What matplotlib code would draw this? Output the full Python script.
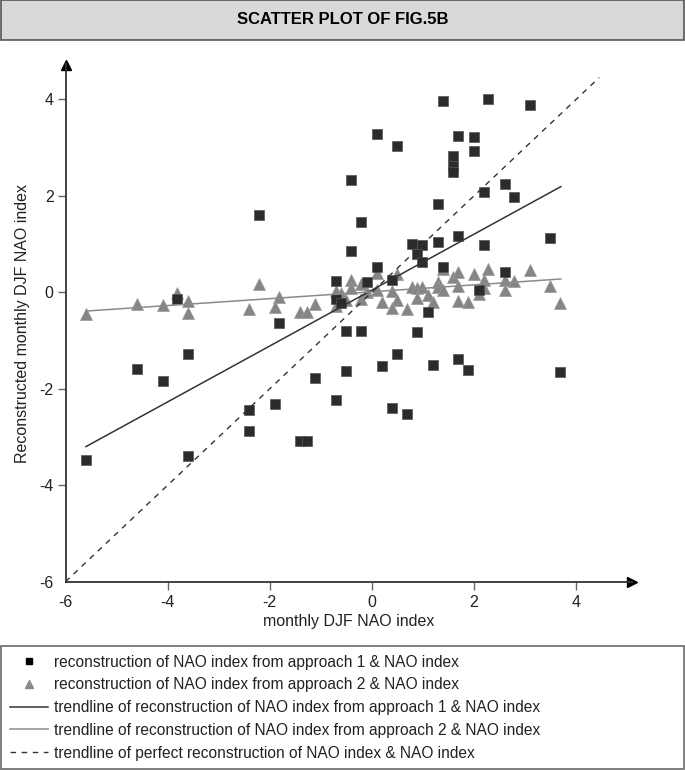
import numpy as np
import matplotlib
matplotlib.use('Agg')
import matplotlib.pyplot as plt
from matplotlib.patches import Rectangle
from matplotlib.lines import Line2D

plt.rcParams['font.family'] = ['Liberation Sans', 'DejaVu Sans']

# approach 1 reconstruction vs observed NAO index (squares)
sq_x = [1.39, 2.28, 3.09, 0.09, 0.5, 1.69, 1.99, 1.99, 1.59, 1.59, 1.59, -0.41, 2.6, 2.19,
        2.79, 1.29, -0.21, 3.48, 1.69, 0.79, 0.99, 1.29, 2.19, -0.41, 0.89, 0.99, 0.09, 1.39,
        2.6, -0.7, -0.1, 0.39, 2.09, -0.7, -0.61, 1.09, -0.51, -0.21, 0.89, 0.5, 0.2, 1.19,
        1.69, 1.89, 3.69, -0.51, -1.11, -0.7, 0.39, 0.69, -1.41, -1.28, -3.81, -1.81, -3.61,
        -4.6, -4.1, -2.41, -1.9, -2.41, -5.6, -3.61, -2.21]
sq_y = [3.96, 4.0, 3.88, 3.28, 3.04, 3.24, 3.22, 2.93, 2.82, 2.62, 2.49, 2.33, 2.24, 2.07,
        1.97, 1.83, 1.46, 1.12, 1.17, 1.01, 0.99, 1.04, 0.99, 0.86, 0.79, 0.62, 0.53, 0.53,
        0.41, 0.24, 0.22, 0.25, 0.04, -0.15, -0.23, -0.4, -0.81, -0.81, -0.83, -1.28, -1.52, -1.51,
        -1.38, -1.61, -1.65, -1.63, -1.78, -2.24, -2.39, -2.53, -3.08, -3.08, -0.14, -0.64, -1.28,
        -1.59, -1.83, -2.45, -2.31, -2.88, -3.47, -3.4, 1.6]

# approach 2 reconstruction vs observed NAO index (triangles)
tri_x = [-5.6, -4.6, -4.1, -3.81, -3.61, -3.61, -2.21, -2.41, -1.81, -1.9, -1.41, -1.28,
         -1.11, -0.7, -0.61, -0.51, -0.7, -0.41, -0.41, -0.21, -0.21, -0.1, 0.09, 0.09, 0.2,
         0.39, 0.5, 0.5, 0.39, 0.69, 0.79, 0.89, 0.99, 0.89, 1.09, 1.19, 1.29, 1.29, 1.39,
         1.39, 1.59, 1.69, 1.69, 1.69, 1.89, 1.99, 2.09, 2.19, 2.19, 2.28, 2.6, 2.6, 2.79,
         3.09, 3.48, 3.69]
tri_y = [-0.46, -0.24, -0.26, -0.01, -0.18, -0.44, 0.18, -0.34, -0.1, -0.31, -0.41, -0.41,
         -0.24, 0.03, -0.01, -0.17, -0.29, 0.26, 0.08, 0.17, -0.14, 0.01, 0.39, 0.04, -0.2,
         0.02, 0.37, -0.17, -0.32, -0.34, 0.11, 0.09, 0.11, -0.11, -0.06, -0.2, 0.22, 0.11, 0.04,
         0.49, 0.32, 0.41, 0.13, -0.18, -0.21, 0.37, -0.03, 0.25, 0.09, 0.49, 0.25, 0.04, 0.23,
         0.47, 0.12, -0.22]

# trendlines (end points)
trend1_x = [-5.6, 3.7]
trend1_y = [-3.2, 2.19]
trend2_x = [-5.6, 3.7]
trend2_y = [-0.39, 0.275]
perfect_x = [-6, 4.45]
perfect_y = [-6, 4.45]

ticks = [-6, -4, -2, 0, 2, 4]
labels = ['reconstruction of NAO index from approach 1 & NAO index',
          'reconstruction of NAO index from approach 2 & NAO index',
          'trendline of reconstruction of NAO index from approach 1 & NAO index',
          'trendline of reconstruction of NAO index from approach 2 & NAO index',
          'trendline of perfect reconstruction of NAO index & NAO index']

W, H = 685, 771
fig = plt.figure(figsize=(W / 100, H / 100), dpi=100, facecolor='white')

# title banner
fig.add_artist(Rectangle((0.5 / W, 1 - 39.5 / H), 683.5 / W, 39 / H, transform=fig.transFigure,
                         facecolor='#d9d9d9', edgecolor='#555555', linewidth=1.2))
fig.text(0.5, 1 - 20 / H, 'SCATTER PLOT OF FIG.5B', ha='center', va='center',
         fontsize=12, fontweight='bold',
         family=['Liberation Sans Narrow', 'Liberation Sans', 'DejaVu Sans'])

ax_l, ax_r, ax_t, ax_b = 65.5, 632, 64.5, 581.7
ax = fig.add_axes([ax_l / W, 1 - ax_b / H, (ax_r - ax_l) / W, (ax_b - ax_t) / H])

xscale = 51.07
yscale = 48.24
ax.set_xlim(-6, -6 + (ax_r - ax_l) / xscale)
ax.set_ylim(-6, -6 + (ax_b - ax_t) / yscale)

h2, = ax.plot(tri_x, tri_y, ls='none', marker='^', ms=8.5, color='#858585', mec='#9a9a9a',
              mew=0.5, zorder=2)
h1, = ax.plot(sq_x, sq_y, ls='none', marker='s', ms=7.2, color='#2b2b2b', mec='#555555',
              mew=0.5, zorder=3)
h3, = ax.plot(trend1_x, trend1_y, color='#333333', lw=1.1, zorder=4)
h4, = ax.plot(trend2_x, trend2_y, color='#8a8a8a', lw=1.1, zorder=4)
h5, = ax.plot(perfect_x, perfect_y, color='#333333', lw=1.0, ls=(0, (4, 4)), zorder=4)

for s in ['top', 'right']:
    ax.spines[s].set_visible(False)
for s in ['left', 'bottom']:
    ax.spines[s].set_color('#333333')
    ax.spines[s].set_linewidth(1.3)

ax.plot(1, 0, '>', color='black', ms=7, transform=ax.transAxes, clip_on=False)
ax.plot(0, 1, '^', color='black', ms=7, transform=ax.transAxes, clip_on=False)

ax.set_xticks(ticks)
ax.set_yticks(ticks)
ax.set_xticklabels([str(t) for t in ticks])
ax.set_yticklabels([str(t) for t in ticks])
ax.tick_params(axis='both', length=5.5, width=1, color='#666666', labelsize=11.5,
               labelcolor='#222222')
ax.tick_params(axis='x', pad=4)
ax.tick_params(axis='y', pad=3)
ax.xaxis.get_major_ticks()[0].tick1line.set_visible(False)
ax.yaxis.get_major_ticks()[0].tick1line.set_visible(False)

ax.set_xlabel('monthly DJF NAO index', fontsize=11.5, color='#222222', labelpad=3)
ax.set_ylabel('Reconstructed monthly DJF NAO index', fontsize=11.5, color='#222222',
              labelpad=7)

leg_handles = [Line2D([], [], ls='none', marker='s', ms=5, color='black'),
               Line2D([], [], ls='none', marker='^', ms=6, color='#8a8a8a'),
               Line2D([], [], color='#333333', lw=1.1),
               Line2D([], [], color='#8a8a8a', lw=1.1),
               Line2D([], [], color='#333333', lw=1.0, ls=(0, (4, 4)))]
leg = fig.legend(leg_handles, labels, loc='upper left',
                 bbox_to_anchor=(1 / W, 1 - 646 / H, 683 / W, 0.0), mode='expand',
                 frameon=True, fancybox=False, fontsize=11.2, handlelength=2.5,
                 handletextpad=0.35, borderpad=0.55, labelspacing=0.5, borderaxespad=0)
leg.get_frame().set_edgecolor('#444444')
leg.get_frame().set_linewidth(1.2)
for t in leg.get_texts():
    t.set_color('#222222')

fig.savefig('out.png', dpi=100)
